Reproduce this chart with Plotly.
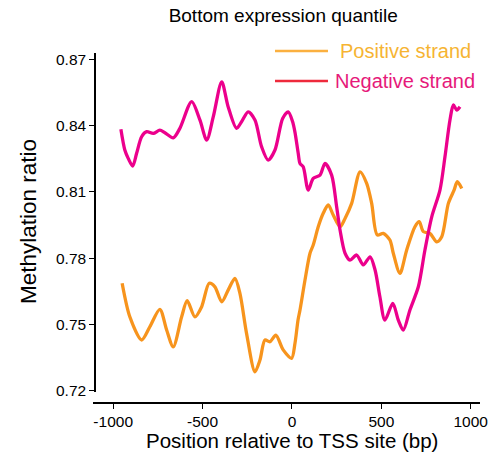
import plotly.graph_objects as go

# ---- data ----
neg_x = [-957, -935, -916, -891, -869, -841, -813, -776, -739, -711, -664, -627,
         -561, -515, -477, -440, -393, -357, -310, -282, -245, -207, -170, -133,
         -95, -52, -21, 3, 17, 35, 45, 63, 91, 119, 157, 185, 222, 250, 269, 297,
         325, 362, 399, 437, 465, 492, 520, 564, 595, 623, 660, 707, 744, 782,
         828, 856, 884, 903, 922, 940]
neg_y = [0.8384, 0.8290, 0.8252, 0.8217, 0.8275, 0.8350, 0.8373, 0.8365, 0.8380,
         0.8368, 0.8345, 0.8388, 0.8509, 0.8426, 0.8335, 0.8441, 0.8599, 0.8486,
         0.8388, 0.8418, 0.8463, 0.8426, 0.8305, 0.8244, 0.8290, 0.8433, 0.8463,
         0.8420, 0.8370, 0.8275, 0.8229, 0.8214, 0.8108, 0.8161, 0.8176, 0.8229,
         0.8176, 0.8033, 0.7927, 0.7822, 0.7791, 0.7814, 0.7769, 0.7806, 0.7746,
         0.7625, 0.7519, 0.7595, 0.7519, 0.7474, 0.7565, 0.7670, 0.7837, 0.7987,
         0.8108, 0.8259, 0.8426, 0.8494, 0.8471, 0.8486]

pos_x = [-950, -907, -841, -795, -739, -701, -664, -617, -586, -543, -505, -463,
         -431, -393, -357, -319, -291, -254, -207, -179, -151, -123, -90, -49, -2,
         17, 34, 45, 73, 101, 119, 147, 175, 203, 231, 269, 297, 334, 381, 418,
         446, 477, 511, 548, 567, 604, 642, 688, 712, 735, 772, 810, 838, 875,
         907, 925, 950]
pos_y = [0.7686, 0.7534, 0.7429, 0.7489, 0.7568, 0.7474, 0.7398, 0.7534, 0.7607,
         0.7534, 0.7580, 0.7686, 0.7670, 0.7602, 0.7655, 0.7708, 0.7640, 0.7459,
         0.7285, 0.7338, 0.7429, 0.7421, 0.7451, 0.7384, 0.7346, 0.7414, 0.7520,
         0.7565, 0.7701, 0.7822, 0.7859, 0.7942, 0.8003, 0.8041, 0.7995, 0.7942,
         0.7980, 0.8048, 0.8191, 0.8139, 0.8048, 0.7905, 0.7912, 0.7882, 0.7822,
         0.7731, 0.7837, 0.7942, 0.7965, 0.7920, 0.7912, 0.7874, 0.7897, 0.8048,
         0.8108, 0.8146, 0.8116]

x_ticks = [-1000, -500, 0, 500, 1000]
y_ticks = [0.72, 0.75, 0.78, 0.81, 0.84, 0.87]

title_text = "Bottom expression quantile"
x_title = "Position relative to TSS site (bp)"
y_title = "Methylation ratio"
legend_labels = ["Positive strand", "Negative strand"]

POS_COLOR = "#F7941D"
NEG_COLOR = "#EC008C"
FONT = "Liberation Sans, Arial, sans-serif"

fig = go.Figure()
fig.add_trace(go.Scatter(x=pos_x, y=pos_y, mode="lines",
                         line=dict(color=POS_COLOR, width=3.3, shape="spline", smoothing=0.8),
                         showlegend=False))
fig.add_trace(go.Scatter(x=neg_x, y=neg_y, mode="lines",
                         line=dict(color=NEG_COLOR, width=3.3, shape="spline", smoothing=0.8),
                         showlegend=False))

# custom legend (line samples + coloured text)
leg = [(legend_labels[0], "#FBB040", "#F6B432", 1.006, 0.633),
       (legend_labels[1], "#EE2A3C", "#E6197A", 0.92, 0.621)]
for label, lcol, tcol, yy, tx in leg:
    fig.add_shape(type="line", xref="paper", yref="paper",
                  x0=0.4703, x1=0.6072, y0=yy, y1=yy,
                  line=dict(color=lcol, width=2.5))
    fig.add_annotation(xref="paper", yref="paper", x=tx, y=yy,
                       text=label, showarrow=False, xanchor="left", yanchor="middle",
                       font=dict(family=FONT, size=20, color=tcol))

# axis titles as annotations (fixed positions)
fig.add_annotation(xref="paper", yref="paper", x=(292 - 93) / 387, y=(403 - 440) / 350,
                   text=x_title, showarrow=False, xanchor="center", yanchor="middle",
                   font=dict(family=FONT, size=20.5, color="black"))
fig.add_annotation(xref="paper", yref="paper", x=(28 - 93) / 387, y=(403 - 222) / 350,
                   text=y_title, showarrow=False, xanchor="center", yanchor="middle",
                   textangle=-90, font=dict(family=FONT, size=22.5, color="black"))

fig.update_layout(
    width=490, height=459,
    margin=dict(l=93, r=10, t=53, b=56, autoexpand=False),
    paper_bgcolor="white", plot_bgcolor="white",
    font=dict(family=FONT, color="black"),
    title=dict(text=title_text, x=0.578, xanchor="center", xref="container",
               y=1 - 15 / 459, yanchor="middle", yref="container",
               font=dict(family=FONT, size=19, color="black")),
    xaxis=dict(range=[-1113, 1052], domain=[0, 1], anchor="free", position=0,
               automargin=False,
               tickvals=x_ticks, ticktext=[str(v) for v in x_ticks],
               showgrid=False, zeroline=False, showline=True,
               linecolor="black", linewidth=1.5,
               ticks="outside", ticklen=5, tickwidth=1.2, tickcolor="black",
               tickfont=dict(family=FONT, size=15.5, color="black")),
    yaxis=dict(range=[0.71932, 0.87295], domain=[0.0314, 1], anchor="free",
               position=0.0052, automargin=False,
               tickvals=y_ticks, ticktext=["%.2f" % v for v in y_ticks],
               showgrid=False, zeroline=False, showline=True,
               linecolor="black", linewidth=1.5,
               ticks="outside", ticklen=5, tickwidth=1.2, tickcolor="black",
               tickfont=dict(family=FONT, size=15.5, color="black")),
)

fig.write_html("out.html")
